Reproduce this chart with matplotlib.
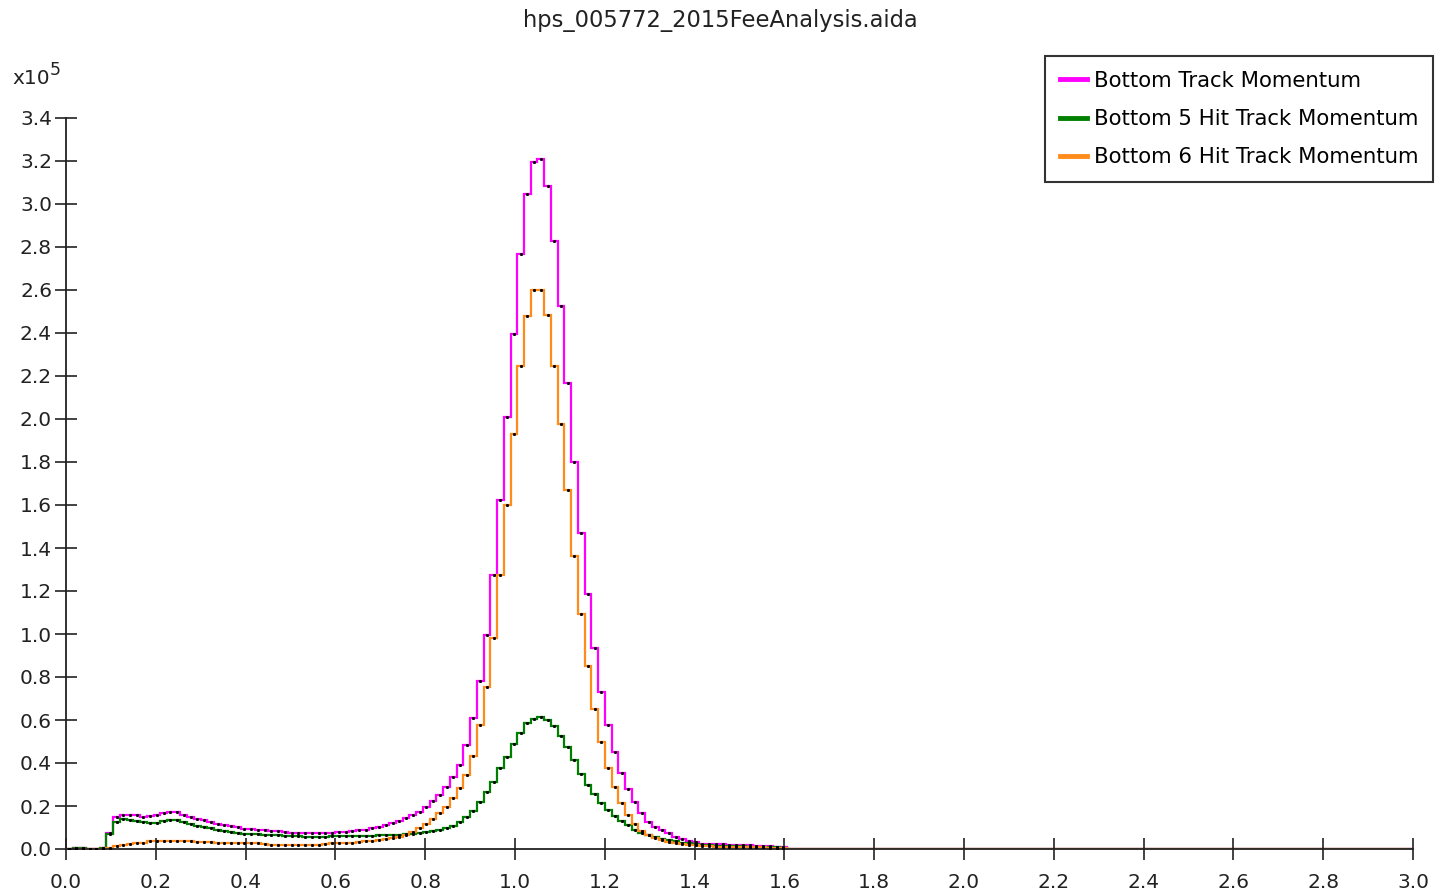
import numpy as np
import matplotlib
matplotlib.use('Agg')
import matplotlib.pyplot as plt
from matplotlib.lines import Line2D

plt.rcParams['font.family'] = ['DejaVu Sans']

TITLE = 'hps_005772_2015FeeAnalysis.aida'

# histogram binning: 200 bins from 0.0 to 3.0 (only the first ~107 are filled)
N_BINS = 200
X_MIN, X_MAX = 0.0, 3.0

# bin contents in units of 10^5, bins 0..106
bottom_all = [0.002, 0.006, 0.006, 0.002, 0.001, 0.005, 0.075, 0.150, 0.158, 0.158,
              0.157, 0.150, 0.155, 0.160, 0.168, 0.172, 0.170, 0.160, 0.148, 0.140,
              0.135, 0.127, 0.115, 0.110, 0.105, 0.102, 0.095, 0.092, 0.090, 0.087,
              0.085, 0.083, 0.078, 0.076, 0.075, 0.075, 0.074, 0.074, 0.075, 0.076,
              0.078, 0.080, 0.085, 0.088, 0.090, 0.098, 0.103, 0.112, 0.120, 0.131,
              0.145, 0.158, 0.173, 0.197, 0.223, 0.251, 0.287, 0.333, 0.390, 0.483,
              0.610, 0.780, 0.994, 1.276, 1.622, 2.008, 2.395, 2.767, 3.047, 3.197,
              3.208, 3.084, 2.826, 2.527, 2.167, 1.799, 1.471, 1.187, 0.937, 0.730,
              0.578, 0.452, 0.353, 0.277, 0.220, 0.169, 0.127, 0.104, 0.088, 0.076,
              0.054, 0.045, 0.036, 0.032, 0.025, 0.023, 0.022, 0.021, 0.019, 0.018,
              0.018, 0.017, 0.016, 0.013, 0.012, 0.011, 0.008]

bottom_5hit = [0.002, 0.006, 0.006, 0.002, 0.001, 0.005, 0.070, 0.125, 0.138, 0.136,
               0.132, 0.124, 0.120, 0.120, 0.128, 0.134, 0.134, 0.126, 0.115, 0.108,
               0.103, 0.096, 0.088, 0.083, 0.079, 0.076, 0.072, 0.070, 0.068, 0.066,
               0.065, 0.063, 0.061, 0.060, 0.059, 0.058, 0.058, 0.058, 0.058, 0.059,
               0.059, 0.060, 0.060, 0.061, 0.062, 0.062, 0.063, 0.064, 0.065, 0.066,
               0.068, 0.070, 0.073, 0.077, 0.082, 0.088, 0.096, 0.108, 0.125, 0.148,
               0.175, 0.218, 0.265, 0.310, 0.375, 0.430, 0.490, 0.540, 0.585, 0.605,
               0.615, 0.600, 0.570, 0.525, 0.475, 0.415, 0.350, 0.300, 0.255, 0.215,
               0.180, 0.152, 0.130, 0.110, 0.090, 0.076, 0.063, 0.055, 0.047, 0.040,
               0.035, 0.030, 0.028, 0.024, 0.020, 0.018, 0.016, 0.015, 0.014, 0.013,
               0.012, 0.011, 0.010, 0.009, 0.008, 0.007, 0.005]

bottom_6hit = [0.000, 0.000, 0.000, 0.000, 0.000, 0.000, 0.003, 0.012, 0.018, 0.025,
               0.028, 0.030, 0.035, 0.038, 0.039, 0.039, 0.038, 0.037, 0.036, 0.033,
               0.031, 0.031, 0.030, 0.030, 0.030, 0.029, 0.028, 0.027, 0.026, 0.021,
               0.020, 0.020, 0.019, 0.019, 0.019, 0.019, 0.020, 0.020, 0.021, 0.026,
               0.027, 0.028, 0.029, 0.034, 0.036, 0.038, 0.042, 0.045, 0.050, 0.057,
               0.065, 0.080, 0.096, 0.116, 0.138, 0.166, 0.196, 0.235, 0.282, 0.344,
               0.432, 0.579, 0.754, 0.980, 1.273, 1.602, 1.932, 2.248, 2.480, 2.601,
               2.598, 2.482, 2.245, 1.979, 1.672, 1.362, 1.095, 0.850, 0.651, 0.498,
               0.379, 0.287, 0.212, 0.158, 0.117, 0.085, 0.065, 0.050, 0.040, 0.033,
               0.028, 0.022, 0.020, 0.018, 0.014, 0.012, 0.011, 0.010, 0.010, 0.009,
               0.009, 0.008, 0.008, 0.007, 0.006, 0.005, 0.004]

labels = ['Bottom Track Momentum', 'Bottom 5 Hit Track Momentum', 'Bottom 6 Hit Track Momentum']
colors = ['#ff00ff', '#008000', '#ff8c1a']

x_ticks = np.round(np.arange(0.0, 3.01, 0.2), 1)
y_ticks = np.round(np.arange(0.0, 3.41, 0.2), 1)


def pad(values):
    arr = np.zeros(N_BINS)
    arr[:len(values)] = values
    return arr


edges = np.linspace(X_MIN, X_MAX, N_BINS + 1)
centers = 0.5 * (edges[:-1] + edges[1:])

fig = plt.figure(figsize=(14.41, 8.93), dpi=100)
ax = fig.add_axes([66 / 1441, 1 - 849 / 893, (1413 - 66) / 1441, (849 - 118) / 893])

for vals, col in zip([bottom_all, bottom_5hit, bottom_6hit], colors):
    h = pad(vals)
    ax.stairs(h, edges, color=col, linewidth=1.6, baseline=0)
    # small black error-bar dots on top of each filled bin
    mask = h > 0
    ax.plot(centers[mask], h[mask], linestyle='none', marker='s', ms=1.1,
            color='black', zorder=5)

ax.set_xlim(X_MIN, X_MAX)
ax.set_ylim(0, 3.4)
ax.set_xticks(x_ticks)
ax.set_yticks(y_ticks)
ax.set_xticklabels([f'{v:.1f}' for v in x_ticks])
ax.set_yticklabels([f'{v:.1f}' for v in y_ticks])
ax.tick_params(direction='inout', length=16, width=1.2, labelsize=14.5, colors='#222222')
ax.tick_params(axis='x', pad=9)
ax.tick_params(axis='y', pad=2)
ax.spines['top'].set_visible(False)
ax.spines['right'].set_visible(False)
for s in ['left', 'bottom']:
    ax.spines[s].set_linewidth(1.3)
    ax.spines[s].set_color('#222222')

fig.text(0.5, 1 - 20 / 893, TITLE, ha='center', va='center', fontsize=16.3, color='#222222')
# axis scale factor label in the top-left corner
fig.text(12 / 1441, 1 - 78 / 893, 'x10', ha='left', va='center', fontsize=14.5,
         color='#222222')
fig.text(50 / 1441, 1 - 70 / 893, '5', ha='left', va='center', fontsize=12.5,
         color='#222222')

handles = [Line2D([], [], color=c, linewidth=3.5) for c in colors]
leg = fig.legend(handles, labels, loc='upper right',
                 bbox_to_anchor=(1433 / 1441, 1 - 56 / 893),
                 fontsize=15.3, frameon=True, fancybox=False, edgecolor='black',
                 handlelength=1.3, handletextpad=0.3, labelspacing=0.85,
                 borderpad=0.7, borderaxespad=0)
leg.get_frame().set_linewidth(1.5)

fig.savefig('out.png', dpi=100)
